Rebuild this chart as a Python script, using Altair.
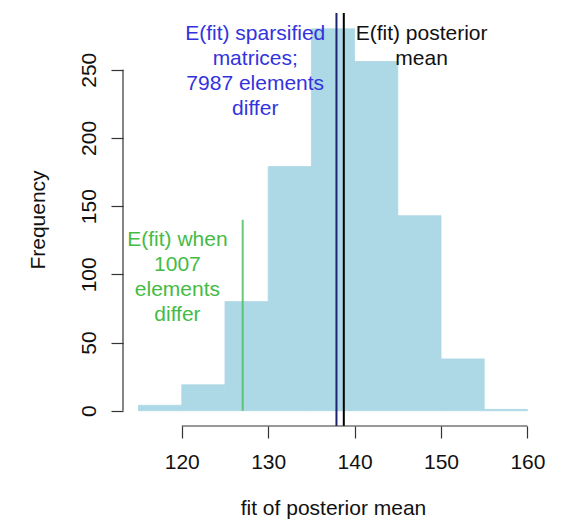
import altair as alt
import pandas as pd

# histogram data
bin_start = [115, 120, 125, 130, 135, 140, 145, 150, 155]
bin_end = [120, 125, 130, 135, 140, 145, 150, 155, 160]
counts = [4, 19, 80, 179, 280, 256, 143, 38, 1]

# reference lines
line_x = [137.9, 138.75]
line_color = ["#1c2270", "#000000"]
green_x = [127.05]
green_top = [140]

# annotations
ann_text = ["E(fit) sparsified\nmatrices;\n7987 elements\ndiffer",
            "E(fit) posterior\nmean",
            "E(fit) when\n1007\nelements\ndiffer"]
ann_x = [128.5, 147.75, 119.5]
ann_y = [284.5, 284.5, 133.0]
ann_color = ["#3333dd", "#111111", "#45bb45"]

x_ticks = [120, 130, 140, 150, 160]
y_ticks = [0, 50, 100, 150, 200, 250]

FONT = "Liberation Sans"
FS = 21

xdom = [113.2, 161.8]
ydom = [-11.2, 291.6]

hist = pd.DataFrame({"start": bin_start, "end": bin_end, "count": counts})
lines = pd.DataFrame({"x": line_x, "c": line_color})
green = pd.DataFrame({"x": green_x, "top": green_top})
ann = pd.DataFrame({"t": ann_text, "x": ann_x, "y": ann_y, "c": ann_color})

xscale = alt.Scale(domain=xdom, nice=False, zero=False)
yscale = alt.Scale(domain=ydom, nice=False, zero=False)

xaxis = alt.Axis(values=x_ticks, domain=False, grid=False, tickSize=12, tickColor="#333333",
                 tickWidth=1.2, labelFontSize=FS, labelFont=FONT, labelColor="#111111",
                 labelPadding=13, title="fit of posterior mean", titleFont=FONT,
                 titleFontSize=FS, titleFontWeight="normal", titleColor="#111111",
                 titlePadding=25)
yaxis = alt.Axis(values=y_ticks, domain=False, grid=False, tickSize=12, tickColor="#333333",
                 tickWidth=1.2, labelFontSize=FS, labelFont=FONT, labelColor="#111111",
                 labelAngle=270, labelAlign="center", labelBaseline="bottom",
                 labelPadding=12, title="Frequency", titleFont=FONT, titleFontSize=FS,
                 titleFontWeight="normal", titleColor="#111111", titlePadding=30)

bars = alt.Chart(hist).mark_rect(color="#add8e6", stroke="#add8e6", strokeWidth=0.8).encode(
    x=alt.X("start:Q", scale=xscale, axis=xaxis),
    x2="end:Q",
    y=alt.Y("count:Q", scale=yscale, axis=yaxis),
    y2=alt.datum(0),
)

vlines = alt.Chart(lines).mark_rule(strokeWidth=2).encode(
    x=alt.X("x:Q", scale=xscale),
    color=alt.Color("c:N", scale=None),
)

gline = alt.Chart(green).mark_rule(strokeWidth=2, color="#4cc060", opacity=0.85).encode(
    x=alt.X("x:Q", scale=xscale),
    y=alt.Y("top:Q", scale=yscale),
    y2=alt.datum(0),
)

xaxis_line = alt.Chart(pd.DataFrame({"a": [x_ticks[0]], "b": [x_ticks[-1]]})).mark_rule(
    color="#333333", strokeWidth=1.2).encode(
    x=alt.X("a:Q", scale=xscale), x2="b:Q", y=alt.value(413))

yaxis_line = alt.Chart(pd.DataFrame({"a": [y_ticks[0]], "b": [y_ticks[-1]]})).mark_rule(
    color="#333333", strokeWidth=1.2).encode(
    y=alt.Y("a:Q", scale=yscale), y2="b:Q", x=alt.value(0))

texts = alt.Chart(ann).mark_text(font=FONT, fontSize=FS, lineBreak="\n", lineHeight=25,
                                 align="center", baseline="top").encode(
    x=alt.X("x:Q", scale=xscale),
    y=alt.Y("y:Q", scale=yscale),
    text="t:N",
    color=alt.Color("c:N", scale=None),
)

chart = alt.layer(bars, gline, vlines, xaxis_line, yaxis_line, texts).properties(
    width=420, height=413,
    background="white",
    autosize=alt.AutoSizeParams(type="none"),
    padding={"left": 115, "top": 5, "right": 12, "bottom": 98},
).configure_view(strokeWidth=0, stroke="transparent")

chart.save("out.html", embed_options={"renderer": "svg", "actions": False})
